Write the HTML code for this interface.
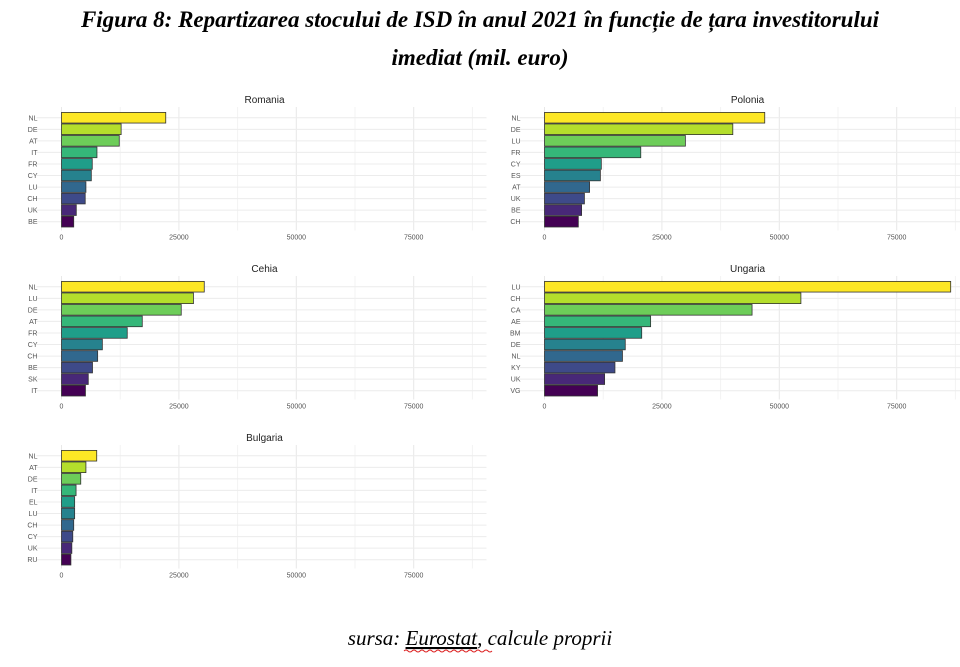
<!DOCTYPE html>
<html><head><meta charset="utf-8"><style>
body{margin:0;background:#fff;width:960px;height:667px;overflow:hidden}
svg{display:block}
</style></head><body>
<svg id="c" width="960" height="667">
<text x="480" y="27" text-anchor="middle" font-family="Liberation Serif, serif" font-size="23" font-weight="bold" font-style="italic">Figura 8: Repartizarea stocului de ISD în anul 2021 în funcție de țara investitorului</text>
<text x="480" y="65" text-anchor="middle" font-family="Liberation Serif, serif" font-size="23" font-weight="bold" font-style="italic">imediat (mil. euro)</text>
<text x="480" y="645" text-anchor="middle" font-family="Liberation Serif, serif" font-size="21" font-style="italic">sursa: <tspan text-decoration="underline">Eurostat</tspan>, calcule proprii</text>
<path d="M404 651 q2 -2 4 0 t4 0 t4 0 t4 0 t4 0 t4 0 t4 0 t4 0 t4 0 t4 0 t4 0 t4 0 t4 0 t4 0 t4 0 t4 0 t4 0 t4 0 t4 0 t4 0 t4 0 t4 0" stroke="#d22" fill="none" stroke-width="1"/>
<g id="panels"></g>
</svg>
<script>
const romaniaCats=["NL","DE","AT","IT","FR","CY","LU","CH","UK","BE"];
const romaniaVals=[22200,12700,12300,7550,6550,6350,5200,5050,3150,2600];
const poloniaCats=["NL","DE","LU","FR","CY","ES","AT","UK","BE","CH"];
const poloniaVals=[46900,40100,30000,20500,12100,11900,9600,8500,7900,7200];
const cehiaCats=["NL","LU","DE","AT","FR","CY","CH","BE","SK","IT"];
const cehiaVals=[30400,28100,25500,17200,14000,8700,7700,6600,5700,5100];
const ungariaCats=["LU","CH","CA","AE","BM","DE","NL","KY","UK","VG"];
const ungariaVals=[86500,54600,44200,22600,20700,17200,16600,15000,12800,11300];
const bulgariaCats=["NL","AT","DE","IT","EL","LU","CH","CY","UK","RU"];
const bulgariaVals=[7500,5200,4100,3100,2800,2800,2600,2400,2200,2000];
const tickVals=[0,25000,50000,75000];
const colors=["#FDE725","#B4DE2C","#6DCD59","#35B779","#1F9E89","#26828E","#31688E","#3E4A89","#482878","#440154"];
const panels=[
 {name:"Romania",cats:romaniaCats,vals:romaniaVals,x0:61.5,top:112},
 {name:"Polonia",cats:poloniaCats,vals:poloniaVals,x0:544.5,top:112},
 {name:"Cehia",cats:cehiaCats,vals:cehiaVals,x0:61.5,top:281},
 {name:"Ungaria",cats:ungariaCats,vals:ungariaVals,x0:544.5,top:281},
 {name:"Bulgaria",cats:bulgariaCats,vals:bulgariaVals,x0:61.5,top:450}
];
const NS="http://www.w3.org/2000/svg";
const g=document.getElementById("panels");
function mk(t,a){const e=document.createElementNS(NS,t);for(const k in a)e.setAttribute(k,a[k]);return e;}
const pitch=11.55;
panels.forEach(p=>{
 const xs=v=>p.x0+v*117.4/25000;
 const slug=p.name.toLowerCase();
 const pg=mk("g",{});
 
 
 g.appendChild(pg);
 const left=p.x0-25,right=p.x0+425;
 const bottom=p.top+10*pitch+1;
 // grid
 for(let v=0;v<=87500;v+=12500){
  const l=mk("line",{x1:xs(v),x2:xs(v),y1:p.top-5,y2:bottom+2,stroke:v%25000?"#f3f3f3":"#e8e8e8","stroke-width":1});
  
  
  pg.appendChild(l);
 }
 p.cats.forEach((c,i)=>{
  const yc=p.top+i*pitch+pitch/2;
  const l=mk("line",{x1:left,x2:right,y1:yc,y2:yc,stroke:"#ececec","stroke-width":1});
  
  
  pg.appendChild(l);
  const t=mk("text",{x:p.x0-24,y:yc+2.5,"text-anchor":"end","font-family":"Liberation Sans, sans-serif","font-size":7,fill:"#555"});
  t.textContent=c;
  
  
  pg.appendChild(t);
 });
 p.vals.forEach((v,i)=>{
  const r=mk("rect",{x:xs(0),y:p.top+i*pitch+0.4,width:xs(v)-xs(0),height:pitch-0.9,fill:colors[i],stroke:"#333","stroke-width":0.8});
  
  
  pg.appendChild(r);
 });
 tickVals.forEach(v=>{
  const t=mk("text",{x:xs(v),y:bottom+11,"text-anchor":"middle","font-family":"Liberation Sans, sans-serif","font-size":7,fill:"#555"});
  t.textContent=String(v);
  
  
  pg.appendChild(t);
 });
 const tt=mk("text",{x:p.x0+203,y:p.top-9,"text-anchor":"middle","font-family":"Liberation Sans, sans-serif","font-size":10,fill:"#222"});
 tt.textContent=p.name;
 
 
 pg.appendChild(tt);
});
</script>
</body></html>
